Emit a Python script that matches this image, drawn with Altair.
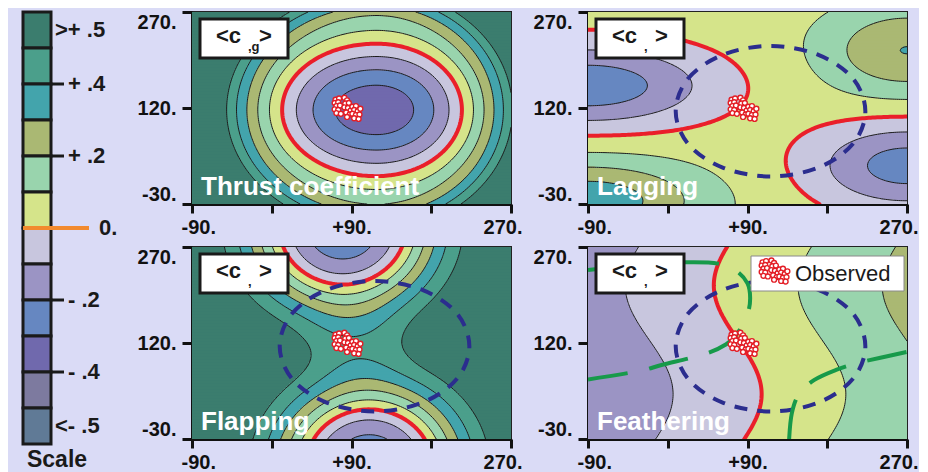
import numpy as np
import pandas as pd
import altair as alt

# ---------------- values ----------------
levels = [-0.5, -0.4, -0.3, -0.2, -0.1, 0.0, 0.1, 0.2, 0.3, 0.4, 0.5]
band_colors = ["#607a96", "#7d7a9f", "#7069ad", "#6687c1", "#9b94c4", "#c8c6de",
               "#d5e48a", "#99d4ad", "#aab873", "#43a4ac", "#4b9f8b", "#3b7d6e"]

scale_labels = [">+ .5", "+ .4", "+ .2", "0.", "- .2", "- .4", "<- .5"]
scale_label_pos = [0.5, 2, 4, 6, 8, 10, 11.5]
scale_label_kind = ["end", "tick", "tick", "zero", "tick", "tick", "end"]
scale_tick_pos = [2, 4, 8, 10]
scale_zero_pos = [6]

x_ticks = [-90, 0, 90, 180, 270]
y_ticks = [-30, 120, 270]

panel_titles = ["Thrust coefficient", "Lagging", "Flapping", "Feathering"]
panel_subs = [",g", ",", ",", ","]

# observed cluster
obs_x = [72, 76, 71, 75, 73, 77, 71, 75, 73, 78,
         82, 85, 83, 87, 82, 86, 89, 84, 88, 85,
         91, 95, 93, 97, 100, 91, 95, 99, 93, 98]
obs_y = [133, 135, 128, 129, 123, 124, 118, 117, 112, 111,
         136, 132, 127, 128, 121, 120, 116, 113, 110, 106,
         122, 123, 117, 115, 119, 111, 109, 110, 104, 103]

# blue dashed ellipse (lagging, flapping, feathering)
ell_x = [9, 23, 62, 116, 170, 209, 223, 209, 170, 116, 62, 23]
ell_y = [115, 166, 203, 217, 203, 166, 115, 64, 27, 13, 27, 64]

# green dashed curves (feathering)
greenA_x = [-90, -33, -6, 40, 66, 80, 90, 93, 90, 78, 57, 20, -30, -90]
greenA_y = [63, 76, 86, 102, 118, 138, 165, 190, 213, 232, 244, 246, 242, 234]
greenB_x = [137, 140, 148, 165, 190, 215, 240, 270]
greenB_y = [-30, 10, 40, 62, 78, 89, 97, 106]

# field models fitted to the contour positions
thrust_center = [118, 117]
thrust_profile = [-0.375, 0.01416, 200]
thrust_stretch = [1.0, 1.1, 1.2, 0.3]

lag_base = 0.05
lag_x = [-90, 270, -90, 270]
lag_y = [155, 210, -25, 30]
lag_a = [-0.32, 0.252, 0.32, -0.30]
lag_sx = [135, 95, 125, 105]
lag_sy = [64, 70, 62, 66]

flap_base = 0.62
flap_x = [80, 110, 95]
flap_y = [300, -72, 120]
flap_a = [-0.88, -0.88, -0.08]
flap_sx = [105, 105, 60]
flap_sy = [130, 130, 60]
flap_q = 1.35

feat_mid = [79, 27, 40, 340]
feat_step = [100, 95]

# ---------------- fields ----------------
def thrust_field(X, Y):
    cx, cy = thrust_center
    f0, k, c = thrust_profile
    sxl, sxr, syi, syo = thrust_stretch
    dx = X - cx
    dy = Y - cy
    ux = dx * np.where(dx < 0, sxl, sxr)
    r0 = np.hypot(ux, dy)
    sy = syi - syo * np.clip((r0 - 40) / 110, 0, 1)
    d = np.hypot(ux, dy * sy)
    return f0 + k * (np.sqrt(c * c + d * d) - c)


def lobe_field(base, lx, ly, la, lsx, lsy, q):
    def f(X, Y):
        F = np.full(np.shape(X), base, dtype=float)
        for x0, y0, a, sx, sy in zip(lx, ly, la, lsx, lsy):
            r2 = ((X - x0) / sx) ** 2 + ((Y - y0) / sy) ** 2
            F = F + a * np.exp(-(r2 ** q))
        return F
    return f


def feather_field(X, Y):
    m, amp, ph, wl = feat_mid
    lo, hi = feat_step
    mid = m + amp * np.cos((Y - ph) * 2 * np.pi / wl)
    dx = X - mid
    return 0.1 * np.where(dx < 0, dx / lo, dx / hi)


fields = [thrust_field,
          lobe_field(lag_base, lag_x, lag_y, lag_a, lag_sx, lag_sy, 1.0),
          lobe_field(flap_base, flap_x, flap_y, flap_a, flap_sx, flap_sy, flap_q),
          feather_field]

# ---------------- helpers ----------------
XD = [-90, 270]
YD = [-30, 270]


def fill_df(fn):
    NX, NY = 320, 128
    xe = np.linspace(XD[0], XD[1], NX + 1)
    ye = np.linspace(YD[0], YD[1], NY + 1)
    xc = 0.5 * (xe[:-1] + xe[1:])
    yc = 0.5 * (ye[:-1] + ye[1:])
    XX, YY = np.meshgrid(xc, yc)
    L = np.digitize(fn(XX, YY), levels)
    dy = ye[1] - ye[0]
    rows = []
    for j in range(NY):
        r = L[j]
        cut = np.flatnonzero(np.diff(r)) + 1
        st = np.r_[0, cut]
        en = np.r_[cut, NX]
        top = min(ye[j + 1] + 0.6 * dy, YD[1])
        for s, e in zip(st, en):
            rows.append((xe[s], xe[e], ye[j], top, int(r[s])))
    return pd.DataFrame(rows, columns=["x", "x2", "y", "y2", "lvl"])


def march(F, xs, ys):
    S = F > 0
    mixed = ~((S[:-1, :-1] == S[:-1, 1:]) & (S[:-1, 1:] == S[1:, 1:]) & (S[1:, 1:] == S[1:, :-1]))
    segs = []
    for j, i in zip(*np.nonzero(mixed)):
        x0, x1 = xs[i], xs[i + 1]
        y0, y1 = ys[j], ys[j + 1]
        a, b, c, d = F[j, i], F[j, i + 1], F[j + 1, i + 1], F[j + 1, i]
        p = {}
        if (a > 0) != (b > 0):
            p[0] = (x0 + a / (a - b) * (x1 - x0), y0)
        if (b > 0) != (c > 0):
            p[1] = (x1, y0 + b / (b - c) * (y1 - y0))
        if (c > 0) != (d > 0):
            p[2] = (x0 + d / (d - c) * (x1 - x0), y1)
        if (d > 0) != (a > 0):
            p[3] = (x0, y0 + a / (a - d) * (y1 - y0))
        if len(p) == 2:
            u, v = list(p.values())
            segs.append((u[0], u[1], v[0], v[1]))
        elif len(p) == 4:
            cen = (a + b + c + d) / 4
            pairs = [(0, 1), (2, 3)] if (cen > 0) == (a > 0) else [(0, 3), (1, 2)]
            for m, n in pairs:
                segs.append((p[m][0], p[m][1], p[n][0], p[n][1]))
    return segs


def chain(segs):
    key = lambda x, y: (round(x, 6), round(y, 6))
    adj = {}
    for k, (ax, ay, bx, by) in enumerate(segs):
        adj.setdefault(key(ax, ay), []).append(k)
        adj.setdefault(key(bx, by), []).append(k)
    used = [False] * len(segs)
    lines = []
    for k in range(len(segs)):
        if used[k]:
            continue
        used[k] = True
        ax, ay, bx, by = segs[k]
        line = [(ax, ay), (bx, by)]
        for _ in range(2):
            while True:
                end = line[-1]
                nxt = None
                for m in adj.get(key(*end), []):
                    if not used[m]:
                        nxt = m
                        break
                if nxt is None:
                    break
                used[nxt] = True
                sx, sy, ex, ey = segs[nxt]
                if key(sx, sy) == key(*end):
                    line.append((ex, ey))
                else:
                    line.append((sx, sy))
            line.reverse()
        lines.append(line)
    return lines


def contour_df(fn, lvls):
    nx, ny = 150, 100
    xs = np.linspace(XD[0], XD[1], nx + 1)
    ys = np.linspace(YD[0], YD[1], ny + 1)
    XX, YY = np.meshgrid(xs, ys)
    G = fn(XX, YY)
    rows = []
    lid = 0
    for lv in lvls:
        for line in chain(march(G - lv, xs, ys)):
            for k, (x, y) in enumerate(line):
                rows.append((lid, k, x, y))
            lid += 1
    return pd.DataFrame(rows, columns=["lid", "k", "x", "y"])


xs_scale = alt.Scale(domain=XD, nice=False, zero=False)
ys_scale = alt.Scale(domain=YD, nice=False, zero=False)
x_axis = alt.Axis(values=x_ticks, title=None, grid=False, labelFlush=True, labelFlushOffset=11,
                  labelExpr="datum.value == -90 ? '-90.' : datum.value == 90 ? '+90.' : datum.value == 270 ? '270.' : ''")
y_axis = alt.Axis(values=y_ticks, title=None, grid=False, labelFlush=True,
                  labelExpr="datum.value + '.'")


def X(f):
    return alt.X(f, type="quantitative", scale=xs_scale, axis=x_axis)


def Y(f):
    return alt.Y(f, type="quantitative", scale=ys_scale, axis=y_axis)


FONT = "Liberation Sans"
obs_df = pd.DataFrame({"x": obs_x, "y": obs_y})
ell_df = pd.DataFrame({"x": ell_x, "y": ell_y, "k": range(len(ell_x))})
green_df = pd.concat([
    pd.DataFrame({"x": greenA_x, "y": greenA_y, "k": range(len(greenA_x)), "cid": "A"}),
    pd.DataFrame({"x": greenB_x, "y": greenB_y, "k": range(len(greenB_x)), "cid": "B"}),
])


def make_panel(i):
    fn = fields[i]
    fill = fill_df(fn)
    black = contour_df(fn, [l for l in levels if l != 0.0])
    red = contour_df(fn, [0.0])
    layers = [
        alt.Chart(fill).mark_rect().encode(
            x=X("x"), x2="x2", y=Y("y"), y2="y2",
            color=alt.Color("lvl:O", scale=alt.Scale(domain=list(range(12)), range=band_colors), legend=None)),
        alt.Chart(black).mark_line(color="#1c1c1c", strokeWidth=1, clip=True).encode(
            x=X("x"), y=Y("y"), detail="lid:N", order="k:Q"),
        alt.Chart(red).mark_line(color="#ea1f2a", strokeWidth=4, strokeCap="round", strokeJoin="round", clip=True).encode(
            x=X("x"), y=Y("y"), detail="lid:N", order="k:Q"),
    ]
    if i > 0:
        layers.append(alt.Chart(ell_df).mark_line(color="#2b2d8e", strokeWidth=4, strokeDash=[13, 10],
                                                  interpolate="cardinal-closed").encode(
            x=X("x"), y=Y("y"), order="k:Q"))
    if i == 3:
        layers.append(alt.Chart(green_df).mark_line(color="#179a4a", strokeWidth=4, strokeDash=[40, 22],
                                                    interpolate="cardinal", clip=True).encode(
            x=X("x"), y=Y("y"), detail="cid:N", order="k:Q"))
    layers.append(alt.Chart(obs_df).mark_point(shape="circle", filled=True, fill="white", stroke="#e31d25",
                                               strokeWidth=1.4, size=24, opacity=1).encode(x=X("x"), y=Y("y")))
    layers.append(alt.Chart(pd.DataFrame({"t": [panel_titles[i]]})).mark_text(
        font=FONT, fontWeight="bold", fontSize=26, color="white", align="left", baseline="alphabetic").encode(
        text="t:N", x=alt.value(9), y=alt.value(183)))
    # label box
    layers.append(alt.Chart(pd.DataFrame({"a": [0]})).mark_rect(fill="white", stroke="#1a1a1a", strokeWidth=3).encode(
        x=alt.value(8), x2=alt.value(96), y=alt.value(7), y2=alt.value(46)))
    layers.append(alt.Chart(pd.DataFrame({"t": ["<c"]})).mark_text(
        font=FONT, fontWeight="bold", fontSize=22, color="#1a1a1a", align="left", baseline="middle").encode(
        text="t:N", x=alt.value(24), y=alt.value(24)))
    layers.append(alt.Chart(pd.DataFrame({"t": [">"]})).mark_text(
        font=FONT, fontWeight="bold", fontSize=22, color="#1a1a1a", align="left", baseline="middle").encode(
        text="t:N", x=alt.value(67), y=alt.value(24)))
    layers.append(alt.Chart(pd.DataFrame({"t": [panel_subs[i]]})).mark_text(
        font=FONT, fontWeight="bold", fontSize=13, color="#1a1a1a", align="left", baseline="middle").encode(
        text="t:N", x=alt.value(56), y=alt.value(35)))
    if i == 3:
        layers.append(alt.Chart(pd.DataFrame({"a": [0]})).mark_rect(fill="white", stroke="#8a8a8a", strokeWidth=1).encode(
            x=alt.value(163), x2=alt.value(316), y=alt.value(9), y2=alt.value(44)))
        layers.append(alt.Chart(obs_df).transform_calculate(ix="datum.x + 35", iy="datum.y + 113").mark_point(
            shape="circle", filled=True, fill="white", stroke="#e31d25", strokeWidth=1.4, size=24, opacity=1).encode(
            x=X("ix"), y=Y("iy")))
        layers.append(alt.Chart(pd.DataFrame({"t": ["Observed"]})).mark_text(
            font=FONT, fontSize=22, color="#1a1a1a", align="left", baseline="middle").encode(
            text="t:N", x=alt.value(207), y=alt.value(27)))
    return alt.layer(*layers).properties(width=319, height=192)


# ---------------- colour bar ----------------
bar_df = pd.DataFrame({"y0": range(12), "y1": range(1, 13), "col": band_colors[::-1]})
ys_bar = alt.Scale(domain=[0, 12], reverse=True, nice=False, zero=False)
lab_df = pd.DataFrame({"t": scale_labels, "p": scale_label_pos, "kind": scale_label_kind})
lab_df["lx"] = lab_df["kind"].map({"end": 46, "tick": 59, "zero": 90})

legend = alt.layer(
    alt.Chart(bar_df).mark_rect(stroke="#1a1a1a", strokeWidth=3).encode(
        x=alt.value(14), x2=alt.value(42),
        y=alt.Y("y0:Q", scale=ys_bar, axis=None), y2="y1:Q",
        color=alt.Color("col:N", scale=None)),
    alt.Chart(pd.DataFrame({"b": scale_tick_pos})).mark_rule(color="#1a1a1a", strokeWidth=3).encode(
        x=alt.value(42), x2=alt.value(55), y=alt.Y("b:Q", scale=ys_bar, axis=None)),
    alt.Chart(pd.DataFrame({"b": scale_zero_pos})).mark_rule(color="#f28a2e", strokeWidth=4).encode(
        x=alt.value(14), x2=alt.value(80), y=alt.Y("b:Q", scale=ys_bar, axis=None)),
    alt.Chart(lab_df).mark_text(font=FONT, fontWeight="bold", fontSize=22, color="#1a1a1a",
                                align="left", baseline="middle").encode(
        text="t:N", x=alt.X("lx:Q", scale=None), y=alt.Y("p:Q", scale=ys_bar, axis=None)),
    alt.Chart(pd.DataFrame({"t": ["Scale"]})).mark_text(font=FONT, fontWeight="bold", fontSize=23, color="#1a1a1a",
                                                       align="center", baseline="middle").encode(
        text="t:N", x=alt.value(48), y=alt.value(448)),
).properties(width=120, height=432, view=alt.ViewBackground(stroke="transparent"))

panels = [make_panel(i) for i in range(4)]
grid = alt.concat(*panels, columns=2, spacing={"row": 43, "column": 77}, bounds="flush")

chart = alt.hconcat(legend, grid, spacing=63, bounds="flush").properties(
    padding={"left": 0, "top": 1, "right": 0, "bottom": 6}
).configure(background="#dadbf6").configure_view(stroke="#222222", strokeWidth=2).configure_axis(
    labelFont=FONT, labelFontWeight="bold", labelFontSize=20, labelColor="#111111",
    domainColor="#111111", domainWidth=3, tickColor="#111111", tickWidth=3, grid=False
).configure_axisX(tickSize=9, labelPadding=4).configure_axisY(tickSize=10, labelPadding=6)

chart.save("out.html", embed_options={"renderer": "svg", "actions": False})
